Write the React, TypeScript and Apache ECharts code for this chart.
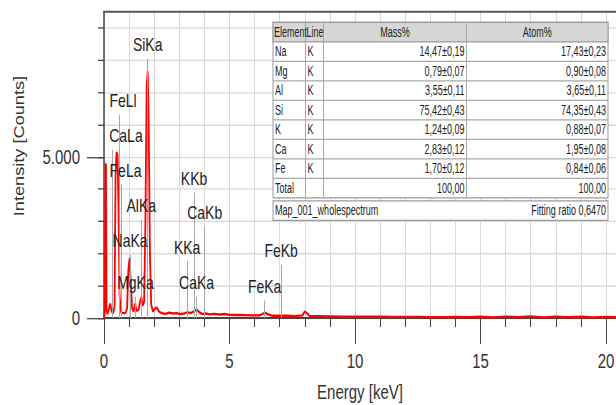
import React, { useEffect, useRef } from "react";
import * as echarts from "echarts";

// Spectrum (energy in keV, intensity in counts)
const energy = [0, 0.03, 0.06, 0.08, 0.1, 0.14, 0.2, 0.25, 0.3, 0.36, 0.42, 0.46, 0.5, 0.54, 0.58, 0.62, 0.68, 0.76, 0.86, 0.92, 0.97, 1.02, 1.07, 1.12, 1.18, 1.24, 1.3, 1.38, 1.44, 1.49, 1.54, 1.6, 1.65, 1.7, 1.74, 1.78, 1.83, 1.88, 1.95, 2.02, 2.1, 2.18, 2.3, 2.45, 2.6, 2.75, 2.9, 3.05, 3.2, 3.31, 3.45, 3.6, 3.69, 3.78, 3.9, 4.05, 4.2, 4.4, 4.6, 4.8, 5, 5.3, 5.6, 5.9, 6.2, 6.35, 6.42, 6.5, 6.7, 7, 7.3, 7.6, 7.9, 8, 8.08, 8.2, 8.6, 9, 9.5, 10, 10.5, 11, 11.5, 12, 12.5, 13, 13.5, 14, 14.5, 15, 15.5, 16, 16.5, 17, 17.5, 18, 18.5, 19, 19.5, 20, 20.4];
const counts = [0, 150, 4800, 4700, 250, 120, 300, 450, 220, 140, 350, 4400, 5150, 5050, 3300, 700, 180, 150, 160, 300, 1500, 1850, 1100, 300, 200, 450, 220, 260, 520, 650, 380, 520, 3000, 7200, 7650, 6100, 2000, 420, 200, 280, 330, 210, 150, 130, 170, 140, 150, 120, 140, 180, 150, 210, 270, 190, 130, 140, 115, 130, 110, 125, 100, 95, 90, 80, 85, 140, 170, 130, 70, 75, 70, 60, 80, 200, 150, 60, 55, 50, 45, 45, 40, 40, 38, 35, 35, 30, 30, 35, 28, 40, 20, 45, 25, 50, 20, 45, 25, 40, 20, 35, 30];

// Peak identification markers
const peakNames = ["SiKa", "FeLl", "CaLa", "FeLa", "AlKa", "NaKa", "MgKa", "KKb", "CaKb", "KKa", "CaKa", "FeKb", "FeKa"];
const peakEnergies = [1.74, 0.615, 0.341, 0.705, 1.486, 1.041, 1.253, 3.59, 4.012, 3.313, 3.69, 7.058, 6.4];
const peakTops = [8040, 6300, 5220, 4130, 3040, 1960, 660, 3890, 2835, 1750, 660, 1650, 540];

// Axis ticks
const xMinorTicks = [0, 1, 2, 3, 4, 5, 6, 7, 8, 9, 10, 11, 12, 13, 14, 15, 16, 17, 18, 19, 20];
const xMajorTicks = [0, 5, 10, 15, 20];
const yMinorTicks = [0, 1000, 2000, 3000, 4000, 5000, 6000, 7000, 8000, 9000];
const yMajorTicks = [0, 5000];

// Quantification table
const tableHeader = ["Element", "Line", "Mass%", "Atom%"];
const elements = ["Na", "Mg", "Al", "Si", "K", "Ca", "Fe", "Total"];
const lines = ["K", "K", "K", "K", "K", "K", "K", ""];
const massPct = ["14,47±0,19", "0,79±0,07", "3,55±0,11", "75,42±0,43", "1,24±0,09", "2,83±0,12", "1,70±0,12", "100,00"];
const atomPct = ["17,43±0,23", "0,90±0,08", "3,65±0,11", "74,35±0,43", "0,88±0,07", "1,95±0,08", "0,84±0,06", "100,00"];
const footerLeft = "Map_001_wholespectrum";
const footerRight = "Fitting ratio 0,6470";

const SCALE_Y = 405 / 312;
const FONT = "'Liberation Sans', Arial, sans-serif";

function buildTable(): any[] {
  const cols = [273, 305.5, 323.5, 466.5, 608];
  const top = 17.3;
  const rowH = 15.02;
  const nRows = 1 + elements.length;
  const bottom = top + nRows * rowH;
  const els: any[] = [];
  const z = 100;
  const txt = (text: string, x: number, y: number, align: string) => ({
    type: "text",
    x,
    y,
    scaleX: 0.82,
    z: z + 2,
    style: {
      text,
      fill: "#222",
      fontSize: 11,
      fontFamily: FONT,
      align,
      textAlign: align,
      verticalAlign: "middle",
      textVerticalAlign: "middle",
    },
  });
  els.push({ type: "rect", z, shape: { x: cols[0], y: top, width: cols[4] - cols[0], height: bottom - top }, style: { fill: "#fff", stroke: "#9a9a9a", lineWidth: 1 } });
  els.push({ type: "rect", z: z + 1, shape: { x: cols[0], y: top, width: cols[4] - cols[0], height: rowH }, style: { fill: "#d6d6d6", stroke: "#9a9a9a", lineWidth: 1 } });
  for (let r = 2; r < nRows; r++) {
    const y = top + r * rowH;
    els.push({ type: "line", z: z + 1, shape: { x1: cols[0], y1: y, x2: cols[4], y2: y }, style: { stroke: "#a8a8a8", lineWidth: 1 } });
  }
  for (let c = 1; c < 4; c++) {
    els.push({ type: "line", z: z + 1, shape: { x1: cols[c], y1: top, x2: cols[c], y2: bottom }, style: { stroke: "#a8a8a8", lineWidth: 1 } });
  }
  const hy = top + rowH / 2;
  els.push(txt(tableHeader[0], cols[0] + 1, hy, "left"));
  els.push(txt(tableHeader[1], cols[1] + 1, hy, "left"));
  els.push(txt(tableHeader[2], (cols[2] + cols[3]) / 2, hy, "center"));
  els.push(txt(tableHeader[3], (cols[3] + cols[4]) / 2, hy, "center"));
  elements.forEach((el, i) => {
    const y = top + (i + 1) * rowH + rowH / 2;
    els.push(txt(el, cols[0] + 2, y, "left"));
    if (lines[i]) els.push(txt(lines[i], cols[1] + 2, y, "left"));
    els.push(txt(massPct[i], cols[3] - 2, y, "right"));
    els.push(txt(atomPct[i], cols[4] - 2, y, "right"));
  });
  const fTop = bottom + 2.3;
  els.push({ type: "rect", z, shape: { x: cols[0], y: fTop, width: cols[4] - cols[0], height: rowH }, style: { fill: "#fff", stroke: "#9a9a9a", lineWidth: 1 } });
  els.push(txt(footerLeft, cols[0] + 2, fTop + rowH / 2, "left"));
  els.push(txt(footerRight, cols[4] - 2, fTop + rowH / 2, "right"));
  return els;
}

export default function App() {
  const ref = useRef<HTMLDivElement>(null);
  useEffect(() => {
    if (!ref.current) return;
    const chart = echarts.init(ref.current, null, { renderer: "svg" });
    const labelShift: Record<string, number> = { FeLl: 3.6, CaLa: 13.4, FeLa: 3.8 };
    const axisColor = "#444";
    chart.setOption({
      animation: false,
      backgroundColor: "#fff",
      textStyle: { fontFamily: FONT },
      grid: { left: 104, right: 0, top: 9, bottom: 67, containLabel: false, outerBoundsMode: "none" },
      xAxis: [
        {
          type: "value",
          min: 0,
          max: 20.4,
          interval: 5,
          position: "bottom",
          axisLine: { show: true, onZero: false, lineStyle: { color: axisColor, width: 1.5 } },
          axisTick: { show: true, customValues: xMinorTicks, length: 7, lineStyle: { color: axisColor, width: 1 } },
          axisLabel: { show: false },
          splitLine: { show: true, lineStyle: { color: "#d9d9d9", width: 1 } },
        },
        {
          type: "value",
          min: 0,
          max: 20.4,
          interval: 5,
          position: "bottom",
          axisLine: { show: false, onZero: false },
          axisTick: { show: true, customValues: xMajorTicks, length: 20, lineStyle: { color: axisColor, width: 1 } },
          axisLabel: { show: true, customValues: xMajorTicks, margin: 26, fontSize: 15, color: "#333", fontFamily: FONT },
          splitLine: { show: false },
          name: "Energy [keV]",
          nameLocation: "middle",
          nameGap: 50,
          nameTextStyle: { fontSize: 15, color: "#333", fontFamily: FONT },
        },
        {
          type: "value",
          min: 0,
          max: 20.4,
          position: "top",
          axisLine: { show: true, onZero: false, lineStyle: { color: "#555", width: 1.5 } },
          axisTick: { show: false },
          axisLabel: { show: false },
          splitLine: { show: false },
        },
      ],
      yAxis: [
        {
          type: "value",
          min: 0,
          max: 9500,
          interval: 5000,
          position: "left",
          axisLine: { show: true, onZero: false, lineStyle: { color: axisColor, width: 1.5 } },
          axisTick: { show: true, customValues: yMinorTicks, length: 6, lineStyle: { color: axisColor, width: 1 } },
          axisLabel: { show: false },
          splitLine: { show: true, lineStyle: { color: "#d9d9d9", width: 1 } },
        },
        {
          type: "value",
          min: 0,
          max: 9500,
          interval: 5000,
          position: "left",
          offset: 0,
          axisLine: { show: false, onZero: false },
          axisTick: { show: true, customValues: yMajorTicks, length: 17, lineStyle: { color: axisColor, width: 1 } },
          axisLabel: {
            show: true,
            customValues: yMajorTicks,
            margin: 24,
            fontSize: 15,
            color: "#333",
            fontFamily: FONT,
            formatter: (v: number) => (v === 5000 ? "5.000" : String(v)),
          },
          splitLine: { show: false },
        },
      ],
      graphic: [
        {
          type: "text",
          x: 19,
          y: 112.5,
          rotation: Math.PI / 2,
          style: {
            text: "Intensity [Counts]",
            fill: "#333",
            fontSize: 14,
            fontFamily: FONT,
            align: "center",
            textAlign: "center",
            verticalAlign: "middle",
            textVerticalAlign: "middle",
          },
        },
        ...buildTable(),
      ],
      series: [
        {
          type: "line",
          xAxisIndex: 0,
          yAxisIndex: 0,
          data: energy.map((e, i) => [e, counts[i]]),
          showSymbol: false,
          symbol: "none",
          lineStyle: { color: "#ff0000", width: 1.8 },
          z: 3,
          markLine: {
            silent: true,
            symbol: ["none", "none"],
            lineStyle: { color: "#a8a8a8", width: 1, type: "solid" },
            label: {
              show: true,
              position: "end",
              distance: 4,
              fontSize: 14,
              color: "#222",
              fontFamily: FONT,
              formatter: (p: any) => p.name,
            },
            data: peakNames.map((n, i) => [
              {
                coord: [peakEnergies[i], 0],
                name: n,
                label: labelShift[n] ? { padding: [0, 0, 0, 2 * labelShift[n]] } : undefined,
              },
              { coord: [peakEnergies[i], peakTops[i]] },
            ]),
          },
        },
      ],
    });
    return () => chart.dispose();
  }, []);
  return (
    <div
      ref={ref}
      style={{
        position: "absolute",
        left: 0,
        top: 0,
        width: 616,
        height: 312,
        transform: `scaleY(${SCALE_Y})`,
        transformOrigin: "0 0",
      }}
    />
  );
}
